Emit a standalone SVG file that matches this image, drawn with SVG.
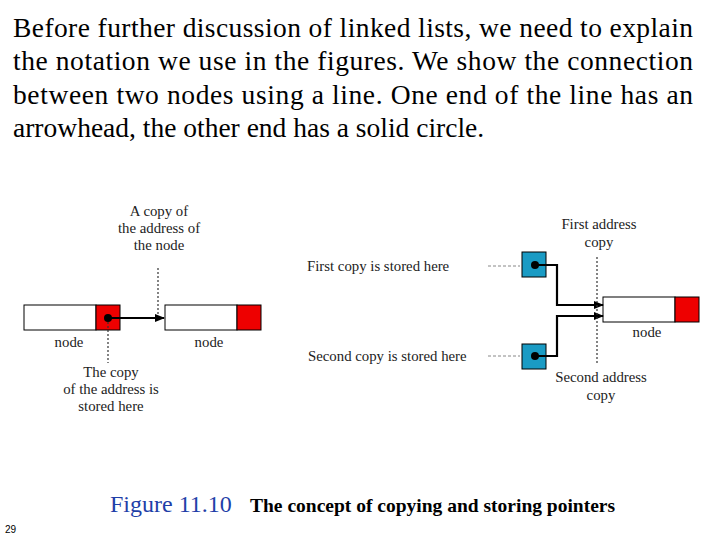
<svg xmlns="http://www.w3.org/2000/svg" width="720" height="540" viewBox="0 0 720 540">
<style>
.p{font-family:"Liberation Serif",serif;font-size:27.5px;fill:#000}
.s{font-family:"Liberation Serif",serif;font-size:14.8px;fill:#222}
.dot{stroke:#333;stroke-width:1.2;stroke-dasharray:2,2;fill:none}
.hd{stroke:#888;stroke-width:1;stroke-dasharray:3,2;fill:none}
.ln{stroke:#000;stroke-width:2.2;fill:none}
.w{fill:#fff;stroke:#000;stroke-width:1}
.r{fill:#e00;stroke:#000;stroke-width:1}
.b{fill:#1a9bc4;stroke:#000;stroke-width:1}
</style>
<defs><marker id="ah" markerWidth="10" markerHeight="8" refX="9" refY="4" orient="auto" markerUnits="userSpaceOnUse"><path d="M0,0L10,4L0,8Z" fill="#000"/></marker></defs>
<rect width="720" height="540" fill="#fff"/>
<text class="p" x="13" y="37" textLength="680" lengthAdjust="spacing">Before further discussion of linked lists, we need to explain</text>
<text class="p" x="13" y="70" textLength="680" lengthAdjust="spacing">the notation we use in the figures. We show the connection</text>
<text class="p" x="13" y="104" textLength="680" lengthAdjust="spacing">between two nodes using a line. One end of the line has an</text>
<text class="p" x="13" y="137">arrowhead, the other end has a solid circle.</text>
<g id="node1"><rect class="w" x="24" y="305" width="72" height="25"/><rect class="r" x="96" y="305" width="24" height="25"/><circle cx="108" cy="318" r="4"/><text class="s" x="69" y="347" text-anchor="middle">node</text></g>
<g id="node2"><rect class="w" x="165" y="305" width="72" height="25"/><rect class="r" x="237" y="305" width="24" height="25"/><text class="s" x="209" y="347" text-anchor="middle">node</text></g>
<g id="lbl-left" class="s" text-anchor="middle"><text x="159" y="216">A copy of</text><text x="159" y="233">the address of</text><text x="159" y="250">the node</text><text x="111" y="377">The copy</text><text x="111" y="394">of the address is</text><text x="111" y="411">stored here</text></g>
<g id="box1"><rect class="b" x="522" y="252" width="24" height="25"/><circle cx="535" cy="265" r="4"/></g>
<g id="box2"><rect class="b" x="522" y="344" width="24" height="25"/><circle cx="535" cy="356" r="4"/></g>
<g id="node3"><rect class="w" x="603" y="297" width="72" height="25"/><rect class="r" x="675" y="297" width="24" height="25"/><text class="s" x="647" y="337" text-anchor="middle">node</text></g>
<g id="lbl-right" class="s"><text x="307" y="271">First copy is stored here</text><text x="308" y="361">Second copy is stored here</text><text x="599" y="229" text-anchor="middle">First address</text><text x="599" y="247" text-anchor="middle">copy</text><text x="601" y="382" text-anchor="middle">Second address</text><text x="601" y="400" text-anchor="middle">copy</text></g>
<g id="connectors">
<line class="ln" x1="108" y1="318" x2="164" y2="318" marker-end="url(#ah)"/>
<line class="dot" x1="158" y1="268" x2="158" y2="314"/>
<line class="dot" x1="108" y1="322" x2="108" y2="363"/>
<polyline class="ln" points="535,265 557,265 557,305 603,305" marker-end="url(#ah)"/>
<polyline class="ln" points="535,356 557,356 557,316 603,316" marker-end="url(#ah)"/>
<line class="dot" x1="597" y1="257" x2="597" y2="363"/>
<line class="hd" x1="488" y1="266" x2="520" y2="266"/>
<line class="hd" x1="488" y1="356" x2="520" y2="356"/>
</g>
<text x="110" y="512" font-family="Liberation Serif,serif" font-size="24" fill="#1f3fa8">Figure 11.10</text>
<text x="250" y="512" font-family="Liberation Serif,serif" font-size="19.5" font-weight="bold">The concept of copying and storing pointers</text>
<text x="5" y="533" font-family="Liberation Sans,sans-serif" font-size="10">29</text>
</svg>
